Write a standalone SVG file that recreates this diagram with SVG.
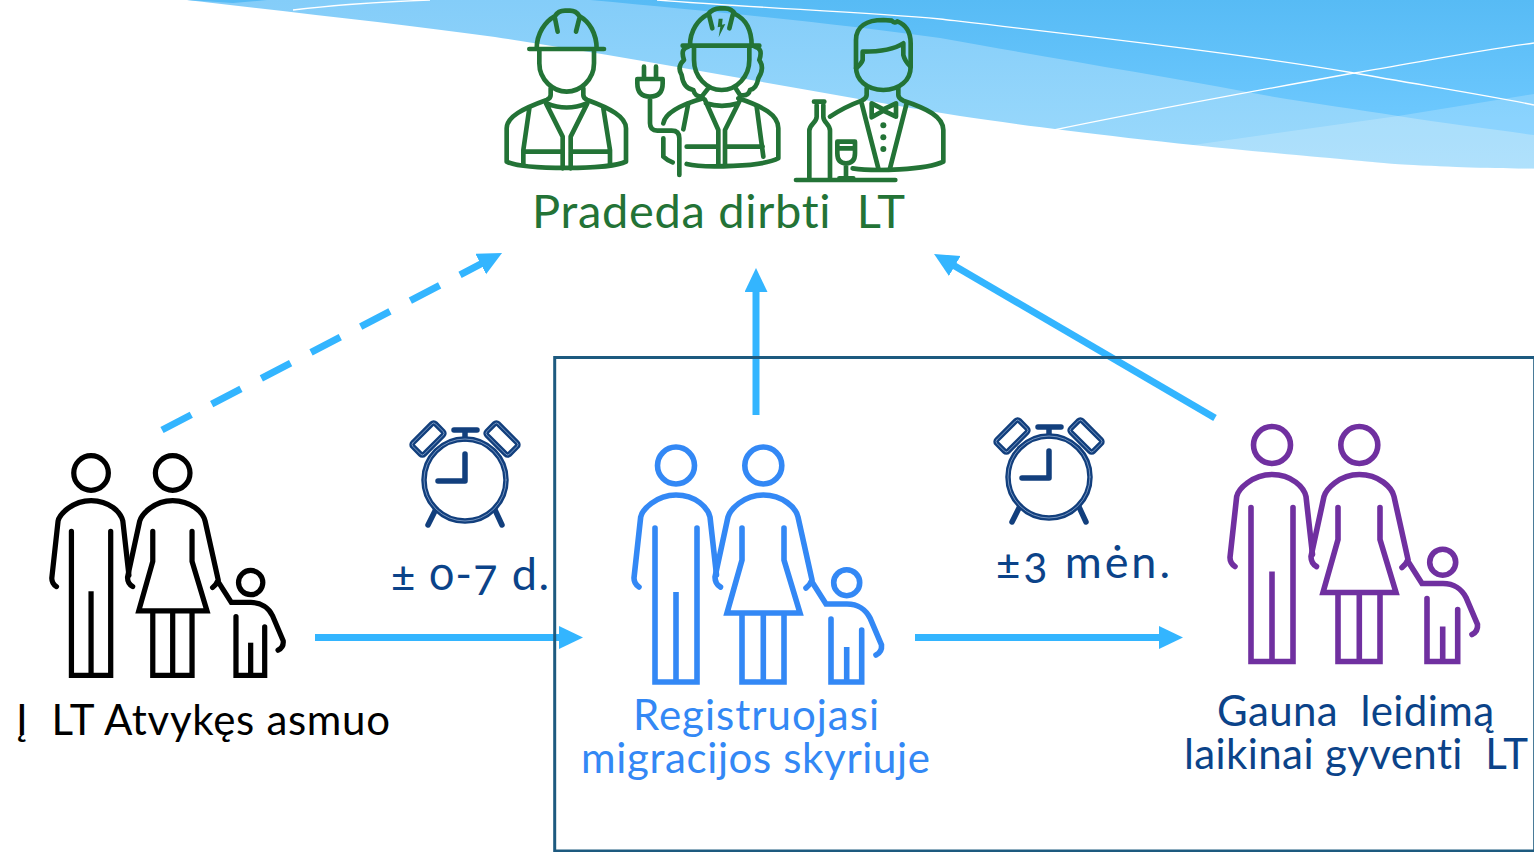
<svg xmlns="http://www.w3.org/2000/svg" width="1534" height="852" viewBox="0 0 1534 852">
<style>
text{font-family:"Lato","Open Sans","Liberation Sans",sans-serif;white-space:pre;font-feature-settings:"onum";font-variant-ligatures:none}
.t40{font-size:42px}
.t46{font-size:45px}
.t44{font-size:47px;fill:#237336}
.navy{fill:#0b4389}
.blue{fill:#3388f5}
.arrow{fill:none;stroke:#33b5ff;stroke-width:7}
.wl{fill:none;stroke:#fff;stroke-width:1.3}
.ic{fill:none;stroke:#237336;stroke-width:14;stroke-linecap:round;stroke-linejoin:round}
</style>
<defs>
<linearGradient id="gd" x1="0" y1="0" x2="0" y2="1"><stop offset="0" stop-color="#57bbf5"/><stop offset="1" stop-color="#70caff"/></linearGradient>
<linearGradient id="gl" x1="0" y1="0" x2="0" y2="1"><stop offset="0" stop-color="#84cdf9"/><stop offset="1" stop-color="#9cdafc"/></linearGradient>
<marker id="head" markerUnits="userSpaceOnUse" markerWidth="24" markerHeight="24" refX="4" refY="11.5" orient="auto"><path d="M0,0L24,11.5L0,23Z" fill="#33b5ff"/></marker>
<g id="family" fill="none" stroke-width="5.6" stroke-linecap="round">
<circle cx="56" cy="35.5" r="18.5"/><circle cx="143.3" cy="35.5" r="18.5"/>
<path d="M19,157C16,155 14,153 14,148L20.7,87C22,80 36,65 56,65C76,65 88,78 90,87L96.5,145"/>
<path d="M100.5,157C97,155 95,152 95,147C102,115 105,100 108,87C110,80 123,65 143.3,65C163,65 176,78 178,87L192,150Q190,155 186,158"/>
<path d="M35,98V252H77V98" stroke-linejoin="miter"/>
<path stroke-linecap="butt" d="M56,162V252"/>
<path stroke-linejoin="miter" d="M122,98V130L107,183H180L164,130V98"/>
<path stroke-linecap="butt" d="M122,183V252H164V183M143.3,183V252"/>
<path d="M192.7,153L206,174H227C238,174 246,180 250,188L261.5,215C262,220 260,223 256,225"/>
<circle cx="226.7" cy="152.7" r="13"/>
<path stroke-linejoin="miter" d="M211,189V252H241.7V200"/>
<path stroke-linecap="butt" d="M226.7,217V252"/>
</g>
<g id="clock" fill="none" stroke-linecap="round" stroke-linejoin="round">
<g stroke="#123f7d" stroke-width="5.5">
<circle cx="465" cy="480" r="41"/>
<path d="M465,454V481H438M454,430H477M465,431V439M436,509L428,525M494.6,509L502,525"/>
<rect x="-16" y="-8" width="32" height="16" rx="2.5" transform="translate(428,439) rotate(-45)"/>
<rect x="-16" y="-8" width="32" height="16" rx="2.5" transform="translate(502,439) rotate(45)"/>
</g>
<g stroke="#7f9dc6" stroke-width=".9">
<circle cx="465" cy="480" r="41"/>
<rect x="-16" y="-8" width="32" height="16" rx="2.5" transform="translate(428,439) rotate(-45)"/>
<rect x="-16" y="-8" width="32" height="16" rx="2.5" transform="translate(502,439) rotate(45)"/>
</g>
</g>
</defs>

<g id="waves">
<path d="M187,0C290,12 400,24 495,37C660,62 810,92 960,116C1054,130 1186,146 1395,164C1450,167 1490,168.5 1534,168.5V0Z" fill="url(#gl)"/>
<path d="M590,0C720,12 840,24 940,38C1050,58 1150,74 1247,92C1300,102 1350,108 1398,116C1450,124 1490,129 1534,135V0Z" fill="url(#gd)"/>
<path d="M187,0L233,3L267,0Z" fill="#57bbf5"/>
<path d="M1186,146L1398,116L1534,94V168.5C1490,168.5 1450,167 1395,164Z" fill="#fff" fill-opacity=".2"/>
<path class="wl" d="M293,10Q350,3 430,0M657,0C760,8 860,12 940,19C1120,40 1250,55 1354,73C1420,85 1480,94 1534,105M1054,130C1150,110 1260,90 1354,73C1420,62 1480,50 1534,43"/>
</g>

<g id="connectors">
<path class="arrow" marker-end="url(#head)" d="M315,637.5H563"/>
<path class="arrow" marker-end="url(#head)" d="M915,637.5H1163"/>
<path class="arrow" marker-end="url(#head)" d="M756,415V288"/>
<path class="arrow" marker-end="url(#head)" d="M1215,418L951.3,264"/>
<path class="arrow" marker-end="url(#head)" stroke-dasharray="33 23" d="M162,430L484.3,262.2"/>
</g>
<rect id="box" x="554.7" y="357.5" width="980" height="493.5" fill="none" stroke="#1d5a7f" stroke-width="3"/>

<g id="workers" transform="translate(490,0) scale(.33333)">
<g id="worker-builder" class="ic">
<path d="M118,147H342M140,147C140,100 165,65 195,48Q205,32 225,32H240Q258,32 268,48C298,65 320,100 320,147M195,55L203,95M268,55L258,95"/>
<path d="M148,150V190C148,240 190,275 230,275C270,275 312,240 312,190V150"/>
<path d="M182,265V285Q182,295 170,300C100,325 50,350 50,385V485C100,510 360,510 408,485V385C408,350 360,325 292,300Q280,295 280,285V265"/>
<path d="M170,310Q230,335 290,310M168,310L218,410V505M292,310L242,410V505M118,325L100,450V495M340,325L360,450V495M100,455H218M242,455H360"/>
</g>
<g id="worker-electrician" class="ic">
<path d="M578,137H808M600,137C600,90 625,58 655,42Q668,25 690,25H705Q725,25 735,42C768,58 785,90 785,137M657,45L667,85M728,45L718,85"/>
<path d="M698,56H686L683,82L691,80L686,112L706,72L696,74Z" fill="#237336" stroke="none"/>
<path d="M612,140V180C612,230 650,270 695,270C740,270 778,230 778,180V140"/>
<path d="M595,140Q570,145 582,180Q560,200 575,225Q580,265 610,270Q615,290 635,290L655,265M795,140Q820,145 808,180Q825,205 805,235Q800,265 780,270Q775,290 750,285L737,265"/>
<path d="M520,370C525,340 570,315 640,295M745,295C820,320 865,345 865,385V475C820,500 640,505 590,492M520,415V470Q530,480 548,487"/>
<path d="M648,310Q695,325 745,310M645,300L685,390V495M750,300L705,390V495M595,310L580,388M800,320L820,470M590,440H680M710,440H818"/>
<path d="M462,200V235M498,200V235M442,237H518V250Q518,290 480,290Q442,290 442,250ZM480,292V370Q480,392 502,392H545Q568,392 568,415V525"/>
</g>
<g id="worker-waiter" class="ic">
<path d="M1098,200C1098,240 1130,270 1180,270C1230,270 1262,240 1262,200V130C1262,100 1250,75 1222,64Q1215,72 1205,62L1180,60C1130,60 1098,80 1098,120V200"/>
<path d="M1118,155C1160,155 1210,150 1240,130V165Q1245,185 1262,200M1118,155V180Q1115,190 1098,205"/>
<path d="M1020,350C1050,330 1080,315 1115,302Q1130,295 1130,285V265M1225,265V285Q1225,295 1240,302C1310,325 1360,350 1360,390V485C1310,510 1150,515 1088,505"/>
<path d="M1115,310L1165,505M1250,310L1200,505M1145,310L1180,328L1218,310V350L1180,332L1145,352Z"/>
<circle cx="1180" cy="376" r="9" fill="#237336" stroke="none"/><circle cx="1180" cy="412" r="9" fill="#237336" stroke="none"/><circle cx="1180" cy="447" r="9" fill="#237336" stroke="none"/>
<path d="M972,305H1003M980,315V350C980,368 958,372 958,392V535M1000,315V350C1000,368 1020,372 1020,392V535"/>
<path d="M1042,425H1095V460Q1095,490 1068,490Q1042,490 1042,460ZM1042,445H1095M1068,490V530M1048,535H1090M918,540H1216"/>
</g>
</g>
<text id="workers-label" class="t44" x="532" y="228" textLength="373">Pradeda dirbti  LT</text>

<g id="node-arrival">
<use href="#family" stroke="#000" color="#000" transform="translate(38.7,439.8) scale(.935)"/>
<text class="t40" x="16" y="735" textLength="374">Į  LT Atvykęs asmuo</text>
</g>
<g id="node-registration">
<use href="#family" stroke="#3388f5" color="#3388f5" transform="translate(620,430)"/>
<text class="t40 blue"><tspan x="633" y="730" textLength="246">Registruojasi</tspan><tspan x="581" y="773" textLength="349">migracijos skyriuje</tspan></text>
</g>
<g id="node-permit">
<use href="#family" stroke="#7030a0" color="#7030a0" transform="translate(1216,409.5)"/>
<text class="t40 navy"><tspan x="1217" y="726" textLength="277">Gauna  leidimą</tspan><tspan x="1184" y="769" textLength="344">laikinai gyventi  LT</tspan></text>
</g>
<g id="timer-1">
<use href="#clock"/>
<text class="t46 navy" x="391" y="590" textLength="158">± 0-7 d.</text>
</g>
<g id="timer-2">
<use href="#clock" transform="translate(584,-3)"/>
<text class="t46 navy" x="996" y="578" textLength="174">±3 mėn.</text>
</g>
</svg>
